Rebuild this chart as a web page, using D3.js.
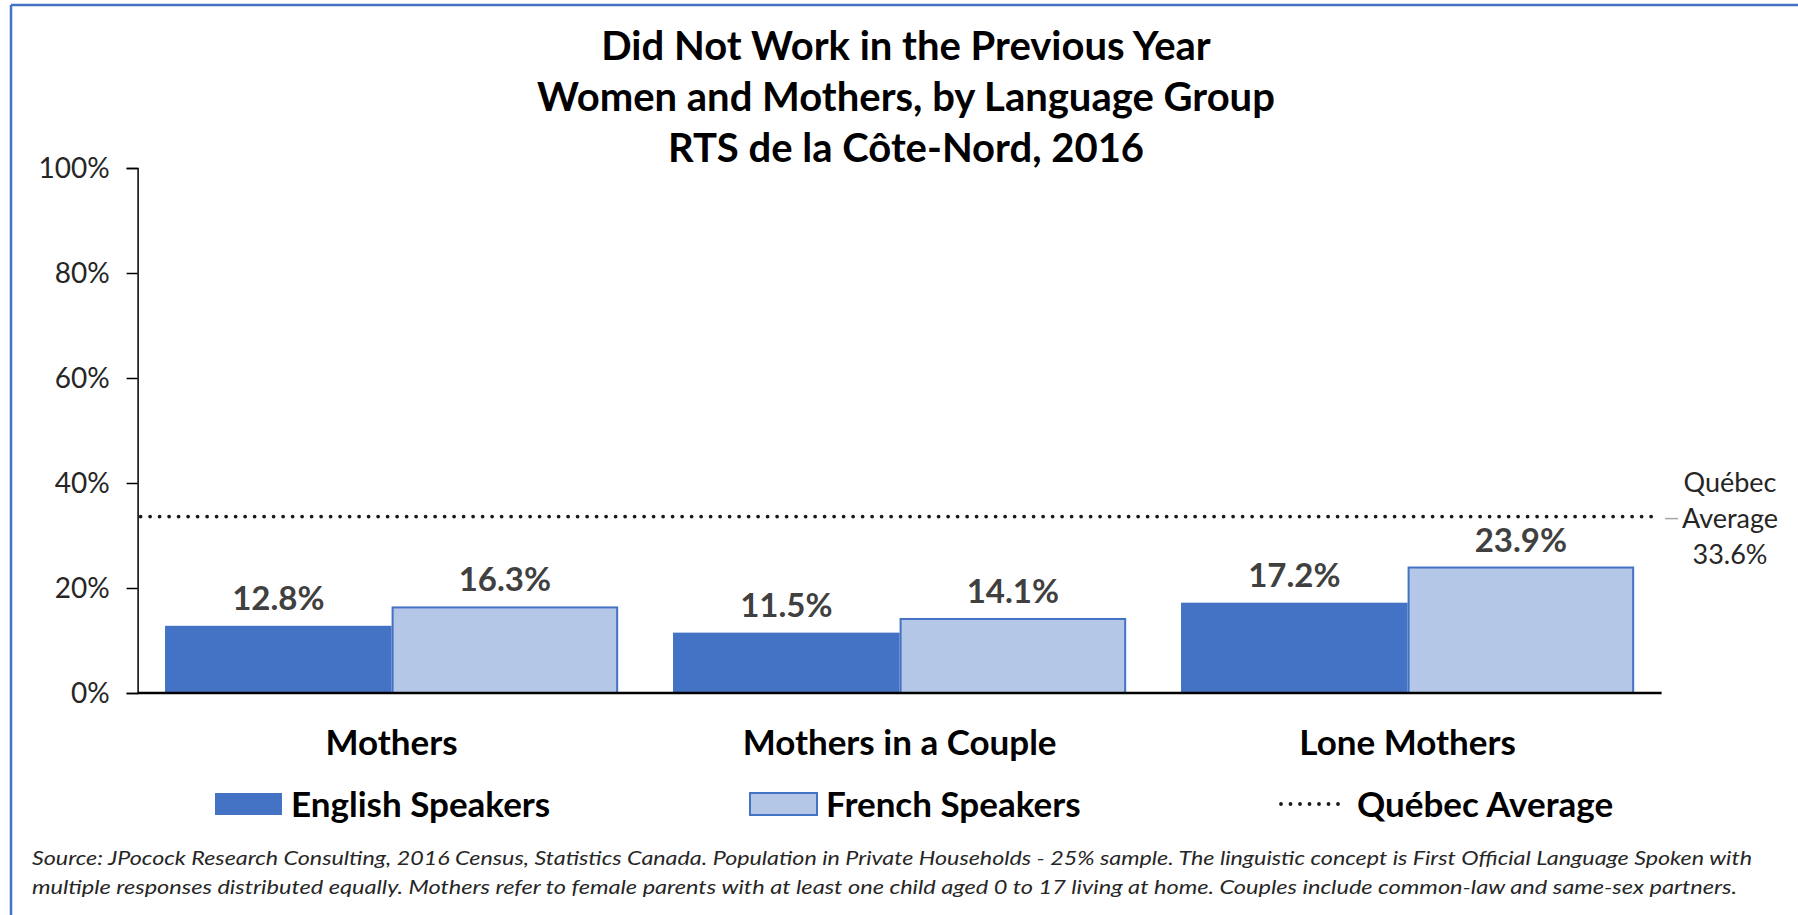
<!DOCTYPE html>
<html>
<head>
<meta charset="utf-8">
<script src="https://cdn.jsdelivr.net/npm/d3@7/dist/d3.min.js"></script>
<style>
  html, body { margin: 0; padding: 0; background: #fff; }
  svg { display: block; font-family: Lato, "Open Sans", sans-serif; }
</style>
</head>
<body>
<svg id="chart" width="1798" height="915"></svg>
<script>
// ── Data ──────────────────────────────────────────────
const categories = ["Mothers", "Mothers in a Couple", "Lone Mothers"];
const seriesNames = ["English Speakers", "French Speakers"];
const english = [12.8, 11.5, 17.2];
const french  = [16.3, 14.1, 23.9];
const quebecAvg = 33.6;
const yTicks = [0, 20, 40, 60, 80, 100];
const titleLines = [
  "Did Not Work in the Previous Year",
  "Women and Mothers, by Language Group",
  "RTS de la Côte-Nord, 2016",
];
const sourceLines = [
  "Source: JPocock Research Consulting, 2016 Census, Statistics Canada. Population in Private Households - 25% sample. The linguistic concept is First Official Language Spoken with",
  "multiple responses distributed equally. Mothers refer to female parents with at least one child aged 0 to 17 living at home. Couples include common-law and same-sex partners.",
];

const BLUE = "#4472C4";
const LIGHT = "#B4C7E7";

const svg = d3.select("#chart");

// outer frame (top + left edges visible)
svg.append("line").attr("x1", 11).attr("x2", 1798).attr("y1", 5).attr("y2", 5)
  .attr("stroke", BLUE).attr("stroke-width", 2.5);
svg.append("line").attr("x1", 11).attr("x2", 11).attr("y1", 5).attr("y2", 915)
  .attr("stroke", BLUE).attr("stroke-width", 2.5);

// ── Scales ────────────────────────────────────────────
const left = 137.6, right = 1661.6, y0 = 693, y100 = 168;
const x = d3.scaleBand().domain(categories).range([left, right])
  .paddingInner(0.108).paddingOuter(0.054);
const xs = d3.scaleBand().domain(seriesNames).range([0, x.bandwidth()]);
const y = d3.scaleLinear().domain([0, 100]).range([y0, y100]);

// title
svg.append("g").selectAll("text").data(titleLines).join("text")
  .attr("x", 906).attr("y", (d, i) => 60 + i * 51)
  .attr("text-anchor", "middle")
  .attr("font-size", 40).attr("font-weight", "bold").attr("fill", "#000")
  .text((d) => d);

// y axis
const yAxis = svg.append("g").attr("transform", `translate(${left},0)`)
  .call(d3.axisLeft(y).tickValues(yTicks).tickSize(11).tickPadding(17)
    .tickFormat((d) => d + "%"));
yAxis.select(".domain").attr("stroke", "#000").attr("stroke-width", 1.5);
yAxis.selectAll(".tick line").attr("stroke", "#000").attr("stroke-width", 1.5);
yAxis.selectAll(".tick text").attr("font-size", 28).attr("fill", "#262626")
  .attr("font-family", "Lato, sans-serif").attr("dy", "0.35em");

// bars
const groups = svg.append("g").selectAll("g").data(categories).join("g")
  .attr("transform", (d) => `translate(${x(d)},0)`);

groups.selectAll("rect")
  .data((d, i) => [
    { s: seriesNames[0], v: english[i] },
    { s: seriesNames[1], v: french[i] },
  ])
  .join("rect")
  .attr("x", (d) => xs(d.s) + (d.s === seriesNames[1] ? 1 : 0))
  .attr("y", (d) => y(d.v))
  .attr("width", (d) => xs.bandwidth() - (d.s === seriesNames[1] ? 2 : 0))
  .attr("height", (d) => y(0) - y(d.v))
  .attr("fill", (d) => d.s === seriesNames[0] ? BLUE : LIGHT)
  .attr("stroke", (d) => d.s === seriesNames[0] ? "none" : BLUE)
  .attr("stroke-width", 2);

// quebec average dotted line
svg.append("line")
  .attr("x1", left + 3).attr("x2", 1657)
  .attr("y1", y(quebecAvg)).attr("y2", y(quebecAvg))
  .attr("stroke", "#1a1a1a").attr("stroke-width", 3.8)
  .attr("stroke-linecap", "round").attr("stroke-dasharray", "0 9.5");

// value labels
groups.selectAll("text.val")
  .data((d, i) => [
    { s: seriesNames[0], v: english[i] },
    { s: seriesNames[1], v: french[i] },
  ])
  .join("text").attr("class", "val")
  .attr("x", (d) => xs(d.s) + xs.bandwidth() / 2)
  .attr("y", (d) => y(d.v) - 16)
  .attr("text-anchor", "middle")
  .attr("font-size", 33).attr("font-weight", "bold").attr("fill", "#404040")
  .text((d) => d.v.toFixed(1) + "%");

// x axis line
svg.append("line").attr("x1", left).attr("x2", right)
  .attr("y1", y0).attr("y2", y0)
  .attr("stroke", "#000").attr("stroke-width", 2.5);

// category labels
svg.append("g").selectAll("text").data(categories).join("text")
  .attr("x", (d) => x(d) + x.bandwidth() / 2).attr("y", 755)
  .attr("text-anchor", "middle")
  .attr("font-size", 35).attr("font-weight", "bold").attr("fill", "#000")
  .text((d) => d);

// Québec average label
const qx = 1730, qy = y(quebecAvg);
svg.append("line").attr("x1", 1665).attr("x2", 1678).attr("y1", qy + 2).attr("y2", qy + 2)
  .attr("stroke", "#a6a6a6").attr("stroke-width", 1.5);
svg.append("g").selectAll("text").data(["Québec", "Average", quebecAvg.toFixed(1) + "%"])
  .join("text")
  .attr("x", qx).attr("y", (d, i) => qy - 25 + i * 36)
  .attr("text-anchor", "middle").attr("font-size", 27).attr("fill", "#262626")
  .text((d) => d);

// legend
const legend = svg.append("g");
const legItems = [
  { label: seriesNames[0], x: 214, type: "eng" },
  { label: seriesNames[1], x: 749, type: "fr" },
  { label: "Québec Average", x: 1279, type: "line" },
];
legItems.forEach((d) => {
  if (d.type === "line") {
    legend.append("line").attr("x1", d.x + 2).attr("x2", d.x + 62)
      .attr("y1", 804).attr("y2", 804)
      .attr("stroke", "#1a1a1a").attr("stroke-width", 3.8)
      .attr("stroke-linecap", "round").attr("stroke-dasharray", "0 9.5");
    legend.append("text").attr("x", d.x + 78).attr("y", 817)
      .attr("font-size", 35).attr("font-weight", "bold").text(d.label);
  } else {
    legend.append("rect").attr("x", d.x + 1).attr("y", 793)
      .attr("width", 67).attr("height", 22)
      .attr("fill", d.type === "eng" ? BLUE : LIGHT)
      .attr("stroke", d.type === "eng" ? "none" : BLUE).attr("stroke-width", 2);
    legend.append("text").attr("x", d.x + 77).attr("y", 817)
      .attr("font-size", 35).attr("font-weight", "bold").text(d.label);
  }
});

// source note
svg.append("g").selectAll("text").data(sourceLines).join("text")
  .attr("x", 32).attr("y", (d, i) => 865 + i * 29)
  .attr("font-size", 20).attr("font-style", "italic").attr("fill", "#262626")
  .attr("textLength", (d, i) => i === 0 ? 1720 : 1705)
  .attr("lengthAdjust", "spacingAndGlyphs")
  .text((d) => d);
</script>
</body>
</html>
